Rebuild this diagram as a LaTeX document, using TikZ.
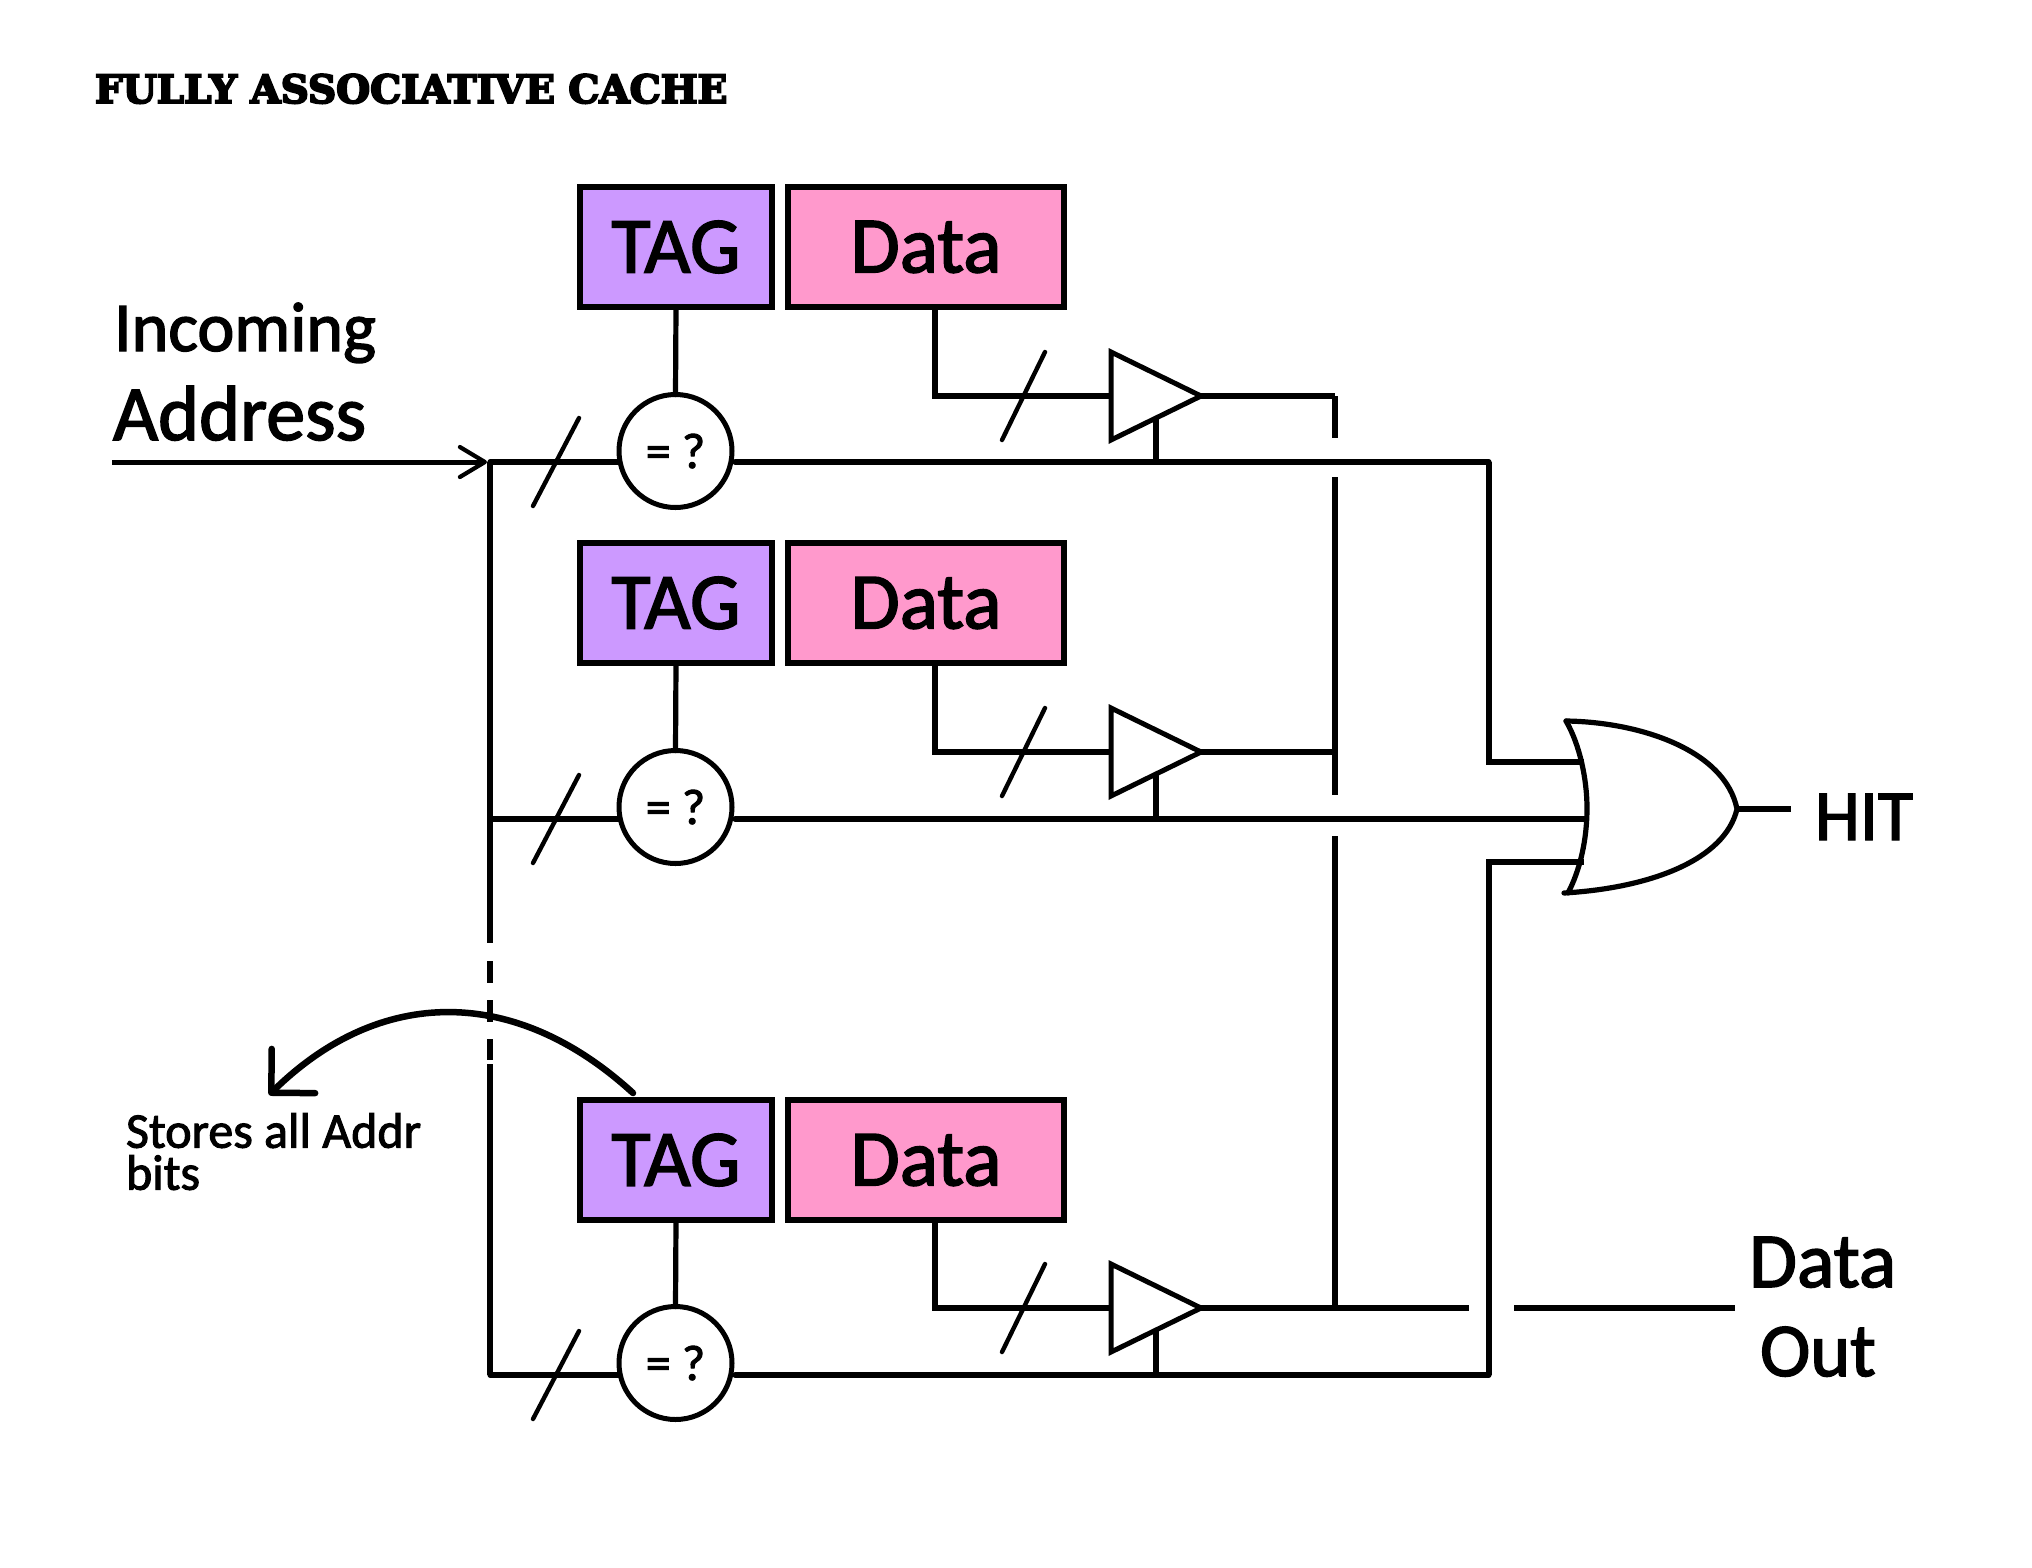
\documentclass[tikz,border=0pt]{standalone}
\usepackage{fontspec}
\usetikzlibrary{arrows.meta,shapes.geometric}
\setmainfont{Carlito}
\newfontfamily\titlefont[BoldFeatures={FakeBold=5}]{DejaVu Serif}
\newfontfamily\handfont[FakeBold=2]{Carlito}
\newcommand{\fsz}[1]{\fontsize{#1}{#1}\selectfont\handfont}
\definecolor{tagpurple}{HTML}{CC99FF}
\definecolor{datapink}{HTML}{FF99CC}
\tikzset{
  wire/.style={line width=5.2pt,line cap=round,line join=miter},
  slash/.style={line width=4.4pt,line cap=round},
  tagbox/.style={draw=black,line width=6pt,fill=tagpurple,minimum width=192pt,minimum height=120pt,inner sep=0pt,outer sep=0pt,font=\fsz{80}},
  databox/.style={draw=black,line width=6pt,fill=datapink,minimum width=276pt,minimum height=120pt,inner sep=0pt,outer sep=0pt,font=\fsz{80}},
  cmp/.style={draw=black,circle,line width=5pt,fill=white,minimum size=113pt,inner sep=0pt,outer sep=0pt,font=\fsz{50}},
  buf/.style={draw=black,isosceles triangle,isosceles triangle apex angle=53,isosceles triangle stretches,minimum width=88pt,minimum height=90pt,inner sep=0pt,outer sep=0pt,line width=5pt,fill=white,anchor=apex},
  lab/.style={inner sep=0pt,outer sep=0pt,anchor=base west},
}
\begin{document}
\begin{tikzpicture}[x=1pt,y=-1pt]
\useasboundingbox[fill=white] (0,0) rectangle (2032,1567);
\node[lab] (title) at (95,103) {\fontsize{39}{39}\selectfont\titlefont\bfseries FULLY ASSOCIATIVE CACHE};
\node[lab,font=\fsz{70}] (inc) at (114,351) {Incoming};
\node[lab,font=\fsz{78}] (addr) at (113,440) {Address};
\foreach \n/\yb/\yc/\yh/\yd in {a/247/451/462/396, b/603/807/819/752, c/1160/1363/1375/1308}{
  \coordinate (bus\n) at (490,\yh);
  \coordinate (hitl\n) at (1489,\yh);
  \coordinate (dcorner\n) at (935,\yd);
  \coordinate (sla\n) at (579,\yh-44);
  \coordinate (slb\n) at (533,\yh+44);
  \coordinate (slc\n) at (1045,\yd-44);
  \coordinate (sld\n) at (1002,\yd+44);
  \coordinate (bout\n) at (1335,\yd);
  \node[tagbox] (tag\n) at (676,\yb) {TAG};
  \node[databox] (data\n) at (926,\yb) {Data};
  \node[cmp] (cmp\n) at (675.5,\yc) {= ?};
  \draw[wire] (tag\n.south) -- (cmp\n.north);
  \draw[wire] (bus\n) -- (bus\n -| cmp\n.west);
  \draw[wire] ([xshift=3pt]cmp\n.east |- bus\n) -- (hitl\n);
  \draw[wire] (dcorner\n |- data\n.south) -- (dcorner\n) -- (1112,\yd);
  \node[buf] (buf\n) at (1201,\yd) {};
  \draw[wire,line cap=butt] (buf\n.right side) -- (buf\n.right side |- hitl\n);
  \draw[wire,line cap=butt] (buf\n.apex) -- (bout\n);
  \draw[slash] (sla\n) -- (slb\n);
  \draw[slash] (slc\n) -- (sld\n);
}
% incoming address
\coordinate (in) at (112,462);
\coordinate (intip) at (487,462);
\draw[line width=5pt,-{Straight Barb[length=25pt,width=30pt,line width=4.2pt,round]}] (in) -- (intip);
% left bus, broken by dashes
\draw[wire,line cap=butt] (busa) -- (490,943) (490,961) -- (490,983) (490,1000) -- (490,1022) (490,1039) -- (490,1060) (490,1064) -- (busc);
% data bus with its two breaks
\draw[wire,line cap=butt] (bouta) -- (1335,438) (1335,477) -- (boutb) -- (1335,795) (1335,836) -- (boutc);
% hit lines to the OR gate
\coordinate (or1) at (1584,762);
\coordinate (or2) at (1586,819);
\coordinate (or3) at (1584,862);
\coordinate (orout) at (1737,809);
\draw[wire,line cap=butt] (hitla) -- (hitla |- or1) -- (or1);
\draw[wire,line cap=butt] (hitlb) -- (or2);
\draw[wire,line cap=butt] (hitlc) -- (hitlc |- or3) -- (or3);
\draw[wire,line join=round] (1566,721) .. controls (1640,722) and (1725,750) .. (orout) .. controls (1725,860) and (1650,888) .. (1564,893);
\draw[wire,line join=round] (1566,721) .. controls (1580,745) and (1587,780) .. (1587,808) .. controls (1587,840) and (1580,870) .. (1568,893);
\node[lab,font=\fsz{72}] (hit) at (1815,840) {HIT};
\draw[wire,line cap=butt] (orout) -- (1791,809);
% data out
\coordinate (dout1) at (1469,1308);
\coordinate (dout2) at (1514,1308);
\coordinate (dout3) at (1735,1308);
\draw[wire,line cap=butt] (boutc) -- (dout1);
\draw[wire,line cap=butt] (dout2) -- (dout3);
\node[lab,font=\fsz{78}] (dataout) at (1749,1287) {Data};
\node[lab,font=\fsz{76}] (outlbl) at (1760,1376) {Out};
% note and its arrow
\node[lab,anchor=north west,align=left,font=\fontsize{50}{42}\selectfont\handfont] (note) at (126,1113) {Stores all Addr\\bits};
\coordinate (arrowend) at (269,1095);
\draw[line width=6.5pt,line cap=round,-{Straight Barb[length=31pt,width=62pt,line width=6.5pt,round]}] ([xshift=-43pt,yshift=7pt]tagc.north) .. controls (515,985) and (380,986) .. (arrowend);
\end{tikzpicture}
\end{document}
